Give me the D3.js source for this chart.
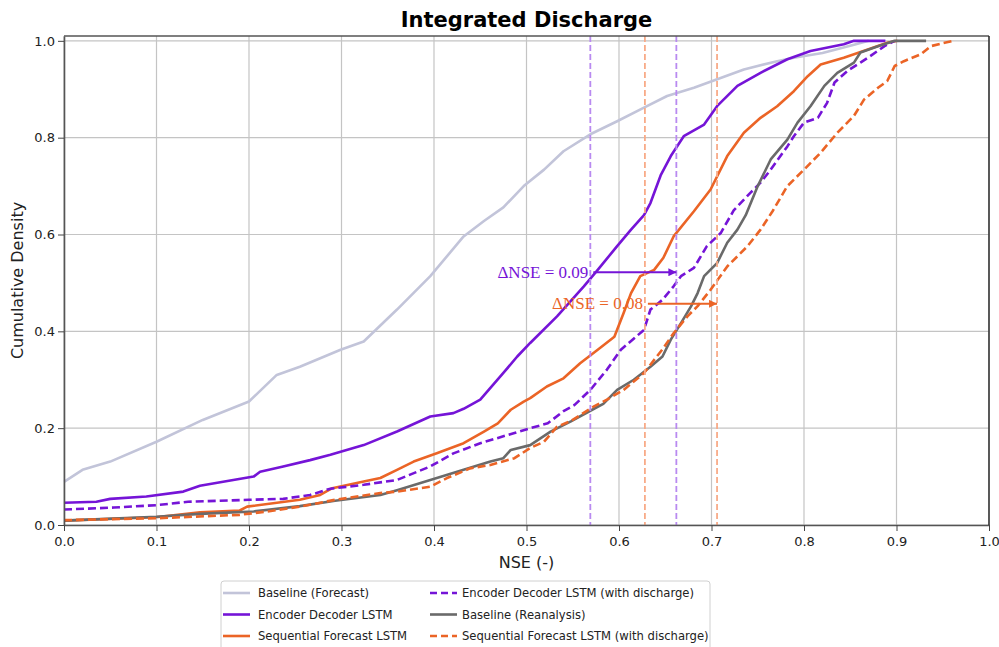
<html>
<head>
<meta charset="utf-8">
<title>Integrated Discharge</title>
<script src="https://d3js.org/d3.v7.min.js"></script>
<style>
  body { margin: 0; background: #fff; }
  text { font-family: "DejaVu Sans", sans-serif; }
</style>
</head>
<body>
<svg width="999" height="647"></svg>
<script>
// ---- data (NSE value, cumulative density) ----
var baseFcstX = [0, 0.02, 0.05, 0.1, 0.15, 0.2, 0.23, 0.255, 0.299, 0.324, 0.36, 0.396, 0.432, 0.454, 0.475, 0.497, 0.519, 0.54, 0.569, 0.598, 0.627, 0.652, 0.681, 0.735, 0.771, 0.789, 0.82, 0.85, 0.87];
var baseFcstY = [0.089, 0.114, 0.131, 0.172, 0.217, 0.255, 0.31, 0.327, 0.362, 0.379, 0.445, 0.514, 0.596, 0.628, 0.656, 0.7, 0.734, 0.772, 0.807, 0.834, 0.862, 0.886, 0.903, 0.941, 0.958, 0.965, 0.975, 0.99, 1.0];

var encDecX = [0, 0.035, 0.05, 0.089, 0.129, 0.147, 0.183, 0.205, 0.212, 0.237, 0.266, 0.288, 0.324, 0.36, 0.396, 0.421, 0.432, 0.45, 0.475, 0.49, 0.504, 0.533, 0.562, 0.577, 0.598, 0.613, 0.627, 0.634, 0.645, 0.656, 0.67, 0.692, 0.706, 0.728, 0.753, 0.782, 0.807, 0.843, 0.854, 0.888];
var encDecY = [0.046, 0.048, 0.054, 0.059, 0.069, 0.081, 0.093, 0.1, 0.11, 0.121, 0.134, 0.145, 0.165, 0.193, 0.224, 0.231, 0.24, 0.259, 0.314, 0.348, 0.376, 0.431, 0.493, 0.527, 0.576, 0.61, 0.64, 0.665, 0.722, 0.762, 0.803, 0.827, 0.865, 0.907, 0.934, 0.962, 0.979, 0.993, 1.0, 1.0];

var seqFcstX = [0, 0.099, 0.147, 0.19, 0.198, 0.255, 0.277, 0.29, 0.324, 0.342, 0.36, 0.378, 0.403, 0.432, 0.454, 0.469, 0.483, 0.497, 0.504, 0.522, 0.54, 0.558, 0.577, 0.595, 0.605, 0.613, 0.623, 0.638, 0.648, 0.659, 0.681, 0.699, 0.717, 0.735, 0.753, 0.771, 0.789, 0.804, 0.818, 0.843, 0.869, 0.89, 0.901];
var seqFcstY = [0.009, 0.016, 0.026, 0.03, 0.038, 0.052, 0.062, 0.076, 0.09, 0.097, 0.114, 0.131, 0.148, 0.169, 0.193, 0.21, 0.238, 0.255, 0.262, 0.286, 0.303, 0.334, 0.362, 0.389, 0.438, 0.479, 0.514, 0.527, 0.552, 0.596, 0.648, 0.693, 0.762, 0.81, 0.841, 0.865, 0.896, 0.927, 0.951, 0.965, 0.982, 0.996, 1.0];

var encDecQX = [0, 0.054, 0.1, 0.134, 0.2, 0.237, 0.266, 0.288, 0.324, 0.36, 0.396, 0.421, 0.45, 0.487, 0.504, 0.523, 0.54, 0.552, 0.569, 0.587, 0.602, 0.627, 0.634, 0.647, 0.659, 0.667, 0.681, 0.695, 0.71, 0.724, 0.742, 0.753, 0.764, 0.782, 0.789, 0.8, 0.815, 0.825, 0.833, 0.847, 0.861, 0.872, 0.887, 0.898];
var encDecQY = [0.032, 0.036, 0.041, 0.048, 0.052, 0.054, 0.062, 0.075, 0.083, 0.093, 0.121, 0.148, 0.169, 0.19, 0.2, 0.21, 0.235, 0.248, 0.279, 0.321, 0.362, 0.403, 0.445, 0.465, 0.493, 0.514, 0.531, 0.576, 0.603, 0.65, 0.686, 0.707, 0.734, 0.782, 0.803, 0.831, 0.841, 0.872, 0.914, 0.938, 0.955, 0.969, 0.989, 1.0];

var baseReanX = [0, 0.1, 0.147, 0.205, 0.255, 0.293, 0.342, 0.36, 0.396, 0.432, 0.461, 0.475, 0.483, 0.504, 0.526, 0.548, 0.569, 0.583, 0.598, 0.616, 0.634, 0.647, 0.656, 0.667, 0.678, 0.685, 0.692, 0.706, 0.717, 0.728, 0.737, 0.75, 0.764, 0.782, 0.793, 0.807, 0.822, 0.836, 0.854, 0.861, 0.88, 0.898, 0.932];
var baseReanY = [0.009, 0.017, 0.023, 0.028, 0.039, 0.05, 0.062, 0.072, 0.093, 0.114, 0.131, 0.138, 0.155, 0.165, 0.193, 0.214, 0.236, 0.25, 0.279, 0.3, 0.327, 0.348, 0.383, 0.417, 0.452, 0.479, 0.514, 0.541, 0.583, 0.61, 0.64, 0.7, 0.755, 0.796, 0.831, 0.865, 0.907, 0.934, 0.955, 0.976, 0.989, 1.0, 1.0];

var seqFcstQX = [0, 0.1, 0.19, 0.22, 0.255, 0.293, 0.342, 0.36, 0.396, 0.414, 0.439, 0.461, 0.487, 0.504, 0.519, 0.533, 0.548, 0.573, 0.587, 0.605, 0.627, 0.647, 0.659, 0.674, 0.685, 0.699, 0.717, 0.739, 0.753, 0.766, 0.782, 0.8, 0.818, 0.836, 0.854, 0.865, 0.88, 0.89, 0.898, 0.908, 0.926, 0.937, 0.952, 0.962];
var seqFcstQY = [0.01, 0.014, 0.021, 0.028, 0.038, 0.052, 0.066, 0.069, 0.079, 0.097, 0.117, 0.124, 0.138, 0.159, 0.172, 0.203, 0.215, 0.245, 0.259, 0.279, 0.314, 0.363, 0.396, 0.431, 0.452, 0.486, 0.534, 0.576, 0.61, 0.648, 0.7, 0.734, 0.769, 0.81, 0.845, 0.879, 0.903, 0.917, 0.948, 0.958, 0.972, 0.989, 0.996, 1.0];

var seriesNames = ["Baseline (Forecast)", "Encoder Decoder LSTM", "Sequential Forecast LSTM",
                   "Encoder Decoder LSTM (with discharge)", "Baseline (Reanalysis)", "Sequential Forecast LSTM (with discharge)"];
var medianLines = [0.569, 0.662, 0.628, 0.706];   // vertical dashed medians
var deltaLabels = ["\u0394NSE = 0.09", "\u0394NSE = 0.08"];
var xTicks = [0, 0.1, 0.2, 0.3, 0.4, 0.5, 0.6, 0.7, 0.8, 0.9, 1.0];
var yTicks = [0, 0.2, 0.4, 0.6, 0.8, 1.0];

var purple = "#7514d7", orange = "#eb6426", lavender = "#c2c4d9", grey = "#6a6a6a";
var purpleLight = "#b98af0", orangeLight = "#f8ab88";

var svg = d3.select("svg"),
    margin = {top: 36, right: 10, bottom: 122, left: 64},
    width = +svg.attr("width") - margin.left - margin.right,
    height = +svg.attr("height") - margin.top - margin.bottom,
    g = svg.append("g").attr("transform", `translate(${margin.left},${margin.top})`);

var x = d3.scaleLinear().domain([0, 1]).range([0, width]);
var y = d3.scaleLinear().domain([0, 1.01]).range([height, 0]);

// grid
g.append("g").selectAll("line").data(xTicks).enter().append("line")
  .attr("x1", d => x(d)).attr("x2", d => x(d)).attr("y1", 0).attr("y2", height)
  .attr("stroke", "#c4c4c4").attr("stroke-width", 1.2);
g.append("g").selectAll("line").data(yTicks).enter().append("line")
  .attr("y1", d => y(d)).attr("y2", d => y(d)).attr("x1", 0).attr("x2", width)
  .attr("stroke", "#c4c4c4").attr("stroke-width", 1.2);

var line = d3.line().x(d => x(d[0])).y(d => y(d[1]));
function pts(xs, ys) { return xs.map((v, i) => [v, ys[i]]); }

var series = [
  {name: seriesNames[0], data: pts(baseFcstX, baseFcstY), color: lavender, dash: null},
  {name: seriesNames[1], data: pts(encDecX, encDecY), color: purple, dash: null},
  {name: seriesNames[2], data: pts(seqFcstX, seqFcstY), color: orange, dash: null},
  {name: seriesNames[3], data: pts(encDecQX, encDecQY), color: purple, dash: "8,4"},
  {name: seriesNames[4], data: pts(baseReanX, baseReanY), color: grey, dash: null},
  {name: seriesNames[5], data: pts(seqFcstQX, seqFcstQY), color: orange, dash: "8,4"}
];

g.selectAll(".series").data(series).enter().append("path")
  .attr("class", "series")
  .attr("d", d => line(d.data))
  .attr("fill", "none")
  .attr("stroke", d => d.color)
  .attr("stroke-width", 2.6)
  .attr("stroke-dasharray", d => d.dash)
  .attr("stroke-linejoin", "round");

// median verticals
var medColors = [purpleLight, purpleLight, orangeLight, orangeLight];
g.append("g").selectAll("line").data(medianLines).enter().append("line")
  .attr("x1", d => x(d)).attr("x2", d => x(d)).attr("y1", 0).attr("y2", height)
  .attr("stroke", (d, i) => medColors[i]).attr("stroke-width", 1.8)
  .attr("stroke-dasharray", "6,3");

// delta annotations
var defs = svg.append("defs");
[["ahP", purple], ["ahO", orange]].forEach(function(a) {
  defs.append("marker").attr("id", a[0]).attr("viewBox", "0 0 10 10")
    .attr("refX", 10).attr("refY", 5).attr("markerWidth", 8).attr("markerHeight", 8)
    .attr("markerUnits", "userSpaceOnUse").attr("orient", "auto")
    .append("path").attr("d", "M0,0L10,5L0,10z").attr("fill", a[1]);
});
var annots = [
  {label: deltaLabels[0], from: medianLines[0], to: medianLines[1], y: 0.522, color: purple, mk: "ahP"},
  {label: deltaLabels[1], from: medianLines[2], to: medianLines[3], y: 0.457, color: orange, mk: "ahO"}
];
annots.forEach(function(a) {
  g.append("line")
    .attr("x1", x(a.from) + 3).attr("x2", x(a.to))
    .attr("y1", y(a.y)).attr("y2", y(a.y))
    .attr("stroke", a.color).attr("stroke-width", 1.8)
    .attr("marker-end", `url(#${a.mk})`);
  g.append("text")
    .attr("x", x(a.from) - 2).attr("y", y(a.y)).attr("dy", "0.33em")
    .attr("text-anchor", "end")
    .style("font-family", "'Liberation Serif', serif").style("font-size", "17px")
    .attr("fill", a.color).text(a.label);
});

// axes
var xAxis = g.append("g").attr("transform", `translate(0,${height})`)
  .call(d3.axisBottom(x).tickValues(xTicks).tickFormat(d3.format(".1f")).tickSizeOuter(0));
var yAxis = g.append("g")
  .call(d3.axisLeft(y).tickValues(yTicks).tickFormat(d3.format(".1f")).tickSizeOuter(0));
[xAxis, yAxis].forEach(function(ax) {
  ax.selectAll("text").style("font-size", "13px").attr("fill", "#222");
  ax.selectAll(".tick line").attr("stroke", "#444").attr("stroke-width", 1);
  ax.select(".domain").attr("stroke", "#555").attr("stroke-width", 1.6);
});
xAxis.selectAll("text").attr("dy", "0.9em");

// top / right spines
g.append("line").attr("x1", 0).attr("x2", width).attr("y1", 0).attr("y2", 0)
  .attr("stroke", "#555").attr("stroke-width", 1.6);
g.append("line").attr("x1", width).attr("x2", width).attr("y1", 0).attr("y2", height)
  .attr("stroke", "#222").attr("stroke-width", 1.4);

// labels
svg.append("text").attr("x", margin.left + width / 2).attr("y", 27)
  .attr("text-anchor", "middle").style("font-size", "21px").style("font-weight", "bold")
  .text("Integrated Discharge");
svg.append("text").attr("x", margin.left + width / 2).attr("y", 568)
  .attr("text-anchor", "middle").style("font-size", "16px").attr("fill", "#222")
  .text("NSE (-)");
svg.append("text").attr("transform", `translate(23,${margin.top + height / 2}) rotate(-90)`)
  .attr("text-anchor", "middle").style("font-size", "16px").attr("fill", "#222")
  .text("Cumulative Density");

// legend
var leg = svg.append("g").attr("transform", "translate(221,581)");
leg.append("rect").attr("width", 489).attr("height", 70).attr("rx", 3)
  .attr("fill", "#fff").attr("stroke", "#d0d0d0");
var legItems = leg.selectAll(".item").data(series).enter().append("g")
  .attr("transform", (d, i) => `translate(${i < 3 ? 2 : 209},${12 + (i % 3) * 21.5})`);
legItems.append("line").attr("x1", 0).attr("x2", 27)
  .attr("stroke", d => d.color).attr("stroke-width", 2.6)
  .attr("stroke-dasharray", d => d.dash ? "7,4" : null);
legItems.append("text").attr("x", (d, i) => i < 3 ? 35 : 32).attr("dy", "0.35em")
  .style("font-size", "11.6px").attr("fill", "#222").text(d => d.name);
</script>
</body>
</html>
